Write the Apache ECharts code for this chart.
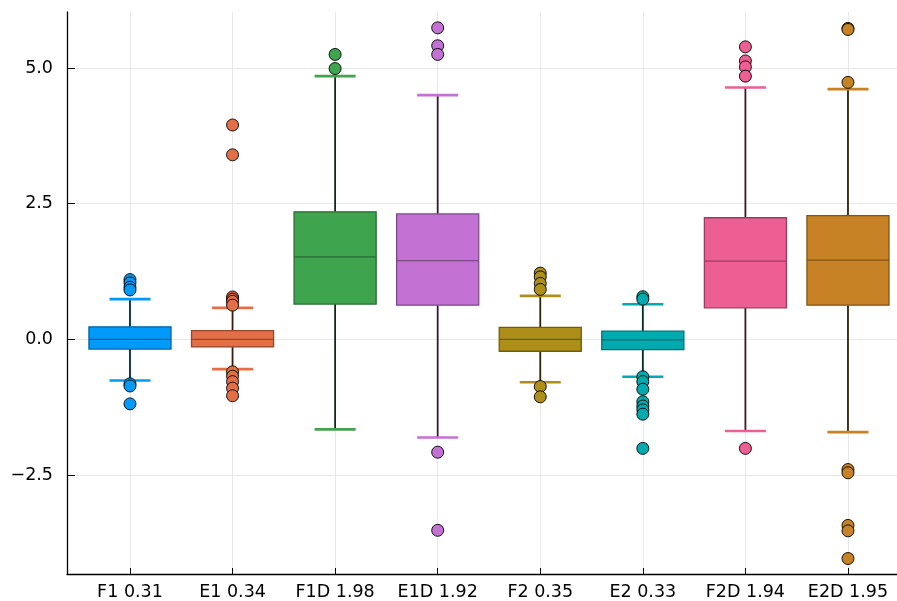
<!DOCTYPE html>
<html>
<head>
<meta charset="utf-8">
<script src="https://cdn.jsdelivr.net/npm/echarts@6/dist/echarts.min.js"></script>
<style>html,body{margin:0;padding:0;background:#fff}#c{width:897px;height:601px}</style>
</head>
<body>
<div id="c"></div>
<script>
// ---- data ----
const categories = ['F1 0.31','E1 0.34','F1D 1.98','E1D 1.92','F2 0.35','E2 0.33','F2D 1.94','E2D 1.95'];
// [lower whisker, Q1, median, Q3, upper whisker]
const F1_box  = [-0.76, -0.18,  0.00, 0.23, 0.74];
const E1_box  = [-0.55, -0.14,  0.00, 0.16, 0.58];
const F1D_box = [-1.66,  0.65,  1.52, 2.35, 4.85];
const E1D_box = [-1.81,  0.63,  1.45, 2.31, 4.50];
const F2_box  = [-0.79, -0.22,  0.00, 0.22, 0.80];
const E2_box  = [-0.69, -0.19, -0.01, 0.15, 0.645];
const F2D_box = [-1.69,  0.58,  1.44, 2.24, 4.64];
const E2D_box = [-1.71,  0.63,  1.46, 2.28, 4.61];
const F1_out  = [1.10, 1.04, 0.96, 0.91, -0.82, -0.86, -1.19];
const E1_out  = [3.95, 3.40, 0.78, 0.74, 0.70, 0.63, -0.60, -0.68, -0.78, -0.90, -1.04];
const F1D_out = [5.25, 4.99];
const E1D_out = [5.74, 5.41, 5.25, -2.08, -3.52];
const F2_out  = [1.22, 1.15, 1.03, 0.92, -0.87, -1.06];
const E2_out  = [0.785, 0.74, -0.69, -0.78, -0.92, -1.15, -1.23, -1.30, -1.38, -2.01];
const F2D_out = [5.39, 5.13, 5.02, 4.85, -2.01];
const E2D_out = [5.73, 5.71, 4.735, -2.40, -2.46, -3.43, -3.53, -4.04];
const yTicks = [-2.5, 0, 2.5, 5];

const boxes = [F1_box, E1_box, F1D_box, E1D_box, F2_box, E2_box, F2D_box, E2D_box];
const outliers = [F1_out, E1_out, F1D_out, E1D_out, F2_out, E2_out, F2D_out, E2D_out];

// ---- style ----
const COLORS = ['#009AFA','#E36F47','#3EA44E','#C371D2','#AC8E18','#00AAAE','#ED5E93','#C68225'];
function shade(hex, f) {
  const n = parseInt(hex.slice(1), 16);
  const r = Math.round(((n >> 16) & 255) * f), g = Math.round(((n >> 8) & 255) * f), b = Math.round((n & 255) * f);
  return 'rgb(' + r + ',' + g + ',' + b + ')';
}
const BOXW = 0.8, CAPW = 0.4;
const FONT = 'DejaVu Sans';

const boxData = boxes.map((b, i) => [i + 1].concat(b));

const series = [{
  type: 'custom',
  data: boxData,
  encode: { x: 0, y: [1, 2, 3, 4, 5] },
  z: 2,
  renderItem: function (params, api) {
    const i = params.dataIndex;
    const c = COLORS[i];
    const x = api.value(0);
    const pMin = api.coord([x, api.value(1)]);
    const pQ1 = api.coord([x, api.value(2)]);
    const pMed = api.coord([x, api.value(3)]);
    const pQ3 = api.coord([x, api.value(4)]);
    const pMax = api.coord([x, api.value(5)]);
    const bw = api.size([BOXW, 0])[0];
    const cw = api.size([CAPW, 0])[0];
    const cx = pMed[0];
    const dark = shade(c, 0.25);
    const edge = shade(c, 0.65);
    return {
      type: 'group',
      children: [
        { type: 'line', shape: { x1: cx, y1: pQ3[1], x2: cx, y2: pMax[1] }, style: { stroke: dark, lineWidth: 1.8 } },
        { type: 'line', shape: { x1: cx, y1: pQ1[1], x2: cx, y2: pMin[1] }, style: { stroke: dark, lineWidth: 1.8 } },
        { type: 'line', shape: { x1: cx - cw / 2, y1: pMax[1], x2: cx + cw / 2, y2: pMax[1] }, style: { stroke: c, lineWidth: 2.6 } },
        { type: 'line', shape: { x1: cx - cw / 2, y1: pMin[1], x2: cx + cw / 2, y2: pMin[1] }, style: { stroke: c, lineWidth: 2.6 } },
        { type: 'rect', shape: { x: cx - bw / 2, y: pQ3[1], width: bw, height: pQ1[1] - pQ3[1] }, style: { fill: c, stroke: edge, lineWidth: 1.3 } },
        { type: 'line', shape: { x1: cx - bw / 2, y1: pMed[1], x2: cx + bw / 2, y2: pMed[1] }, style: { stroke: edge, lineWidth: 1.3 } }
      ]
    };
  }
}];

outliers.forEach((arr, i) => {
  series.push({
    type: 'scatter',
    data: arr.map(v => [i + 1, v]),
    symbol: 'circle',
    symbolSize: 12,
    z: 3,
    itemStyle: { color: COLORS[i], borderColor: '#000', borderWidth: 0.9, opacity: 1 },
    emphasis: { disabled: true },
    silent: true
  });
});

const chart = echarts.init(document.getElementById('c'), null, { renderer: 'canvas' });
chart.setOption({
  animation: false,
  backgroundColor: '#fff',
  grid: { left: 67, right: 0, top: 12, bottom: 27, containLabel: false },
  xAxis: {
    type: 'value',
    min: 0.386, max: 8.478,
    axisLine: { onZero: false, lineStyle: { color: '#000', width: 1.3 } },
    axisTick: { inside: true, length: 6, customValues: [1,2,3,4,5,6,7,8], lineStyle: { color: '#000', width: 1 } },
    axisLabel: {
      customValues: [1,2,3,4,5,6,7,8],
      formatter: v => categories[Math.round(v) - 1],
      color: '#000', fontFamily: FONT, fontSize: 17.5, margin: 9
    },
    splitLine: { show: true, lineStyle: { color: '#e8e8e8', width: 1 } }
  },
  yAxis: {
    type: 'value',
    min: -4.325, max: 6.032,
    axisLine: { show: true, onZero: false, lineStyle: { color: '#000', width: 1.3 } },
    axisTick: { show: true, inside: true, length: 8, customValues: yTicks, lineStyle: { color: '#000', width: 1 } },
    axisLabel: {
      customValues: yTicks,
      formatter: v => (v < 0 ? '\u2212' + Math.abs(v).toFixed(1) : v.toFixed(1)),
      color: '#000', fontFamily: FONT, fontSize: 17.5, margin: 14
    },
    splitLine: { show: true, lineStyle: { color: '#e8e8e8', width: 1 } }
  },
  series: series
});
</script>
</body>
</html>
